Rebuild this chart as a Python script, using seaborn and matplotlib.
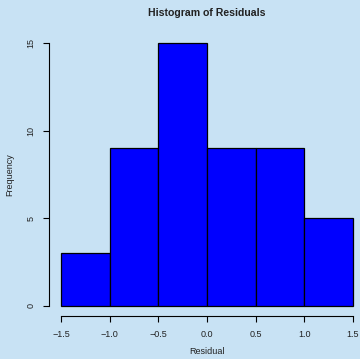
import matplotlib
matplotlib.use("Agg")
import matplotlib.pyplot as plt
import seaborn as sns
import numpy as np

bin_edges = [-1.5, -1.0, -0.5, 0.0, 0.5, 1.0, 1.5]
counts = [3, 9, 15, 9, 9, 5]
x_ticks = [-1.5, -1.0, -0.5, 0.0, 0.5, 1.0, 1.5]
x_labels = ["\u22121.5", "\u22121.0", "\u22120.5", "0.0", "0.5", "1.0", "1.5"]
y_ticks = [0, 5, 10, 15]

centers = [(bin_edges[i] + bin_edges[i + 1]) / 2 for i in range(len(counts))]

sns.set_style("white")
plt.rcParams['font.family'] = ['Liberation Sans', 'DejaVu Sans']
bg = "#c8e2f4"
fig = plt.figure(figsize=(3.6, 3.59), dpi=100, facecolor=bg)
ax = fig.add_axes([0.137, 0.1184, 0.876, 0.7897])
ax.set_facecolor(bg)

sns.histplot(x=centers, weights=counts, bins=bin_edges, color="#0000ff",
             edgecolor="black", linewidth=0.9, alpha=1, ax=ax)

ax.set_xlim(-1.62, 1.62)
ax.set_ylim(-0.6, 15.6)
for s in ["top", "right"]:
    ax.spines[s].set_visible(False)
ax.spines["left"].set_bounds(0, 15)
ax.spines["bottom"].set_bounds(-1.5, 1.5)
for s in ["left", "bottom"]:
    ax.spines[s].set_color("black")
    ax.spines[s].set_linewidth(0.8)
ax.set_xticks(x_ticks)
ax.set_xticklabels(x_labels, fontsize=6.5, color="#222222")
ax.set_yticks(y_ticks)
ax.set_yticklabels([str(v) for v in y_ticks], fontsize=6.5, rotation=90, va="center",
                   color="#222222")
ax.tick_params(axis="both", direction="out", length=4, width=0.8, color="black",
               bottom=True, left=True, pad=6)
ax.set_xlabel("")
ax.set_ylabel("")
fig.text(0.575, 1 - 351 / 359, "Residual", fontsize=6.5, ha="center", va="center",
         color="#222222")
fig.text(10 / 360, 1 - 175 / 359, "Frequency", fontsize=6.5, ha="center", va="center",
         rotation=90, color="#222222")
fig.text(0.575, 0.965, "Histogram of Residuals", fontsize=7.6, fontweight="bold",
         ha="center", va="center", color="#222222")

fig.savefig("out.png", dpi=100, facecolor=bg)
